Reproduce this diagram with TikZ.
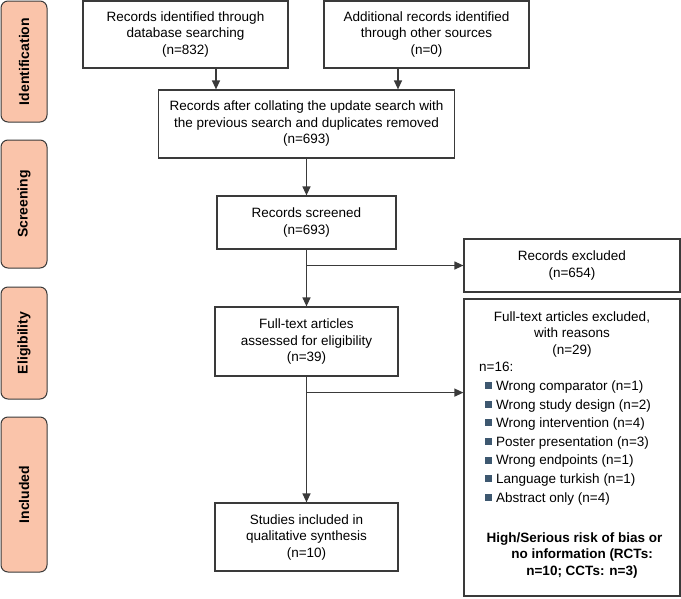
\documentclass[tikz,border=0pt]{standalone}
\usepackage{fontspec}
\setmainfont{Liberation Sans}
\usetikzlibrary{arrows.meta}
\definecolor{salmon}{RGB}{250,196,170}
\definecolor{edge}{RGB}{58,58,58}
\definecolor{bul}{RGB}{62,88,112}
\begin{document}
\begin{tikzpicture}[x=1pt,y=-1pt,
  box/.style={draw=edge, line width=1.2pt, fill=white, align=center, inner sep=0pt,
    font=\fontsize{13.5}{16.5}\selectfont},
  side/.style={draw=edge, line width=1pt, fill=salmon, rounded corners=7pt, inner sep=0pt,
    rotate=90, font=\fontsize{14}{16}\selectfont\bfseries},
  arr/.style={draw=edge, line width=1.2pt, -{Triangle[length=9pt,width=8pt]}},
  ln/.style={draw=edge, line width=1.2pt},
  txt/.style={inner sep=0pt, font=\fontsize{13.5}{16.5}\selectfont},
  btxt/.style={inner sep=0pt, font=\fontsize{13.5}{16.5}\selectfont\bfseries},
]
\useasboundingbox (0,0) rectangle (681,598);

% side labels
\node[side, minimum width=121pt, minimum height=46pt] (sid) at (24,61.5) {Identification};
\node[side, minimum width=128pt, minimum height=46pt] (ssc) at (24,204) {Screening};
\node[side, minimum width=112pt, minimum height=46pt] (sel) at (24,343) {Eligibility};
\node[side, minimum width=155pt, minimum height=46pt] (sin) at (24,494.5) {Included};

% main boxes
\node[box, minimum width=205pt, minimum height=67pt] (B1) at (185.5,34.5)
  {Records identified through\\database searching\\(n=832)};
\node[box, minimum width=205pt, minimum height=67pt] (B2) at (426.5,34.5)
  {Additional records identified\\through other sources\\(n=0)};
\node[box, minimum width=296pt, minimum height=68pt] (B3) at (306.5,124)
  {Records after collating the update search with\\the previous search and duplicates removed\\(n=693)};
\node[box, minimum width=179pt, minimum height=53pt] (B4) at (306.5,222.5)
  {Records screened\\(n=693)};
\node[box, minimum width=183pt, minimum height=69pt] (B5) at (306.5,341.5)
  {Full-text articles\\assessed for eligibility\\(n=39)};
\node[box, minimum width=183pt, minimum height=68pt] (B6) at (306.5,537)
  {Studies included in\\qualitative synthesis\\(n=10)};
\node[box, minimum width=216pt, minimum height=53pt] (E1) at (572,265.5)
  {Records excluded\\(n=654)};
\node[box, minimum width=216pt, minimum height=297pt] (E2) at (572,447.5) {};

% connectors
\draw[arr] ([xshift=30.5pt]B1.south) -- ([xshift=30.5pt]B1.south |- B3.north);
\draw[arr] ([xshift=-28.5pt]B2.south) -- ([xshift=-28.5pt]B2.south |- B3.north);
\draw[arr] (B3.south) -- (B3.south |- B4.north);
\draw[arr] (B4.south) -- (B5.north);
\draw[arr] (B4.south |- E1.west) -- (E1.west);
\draw[arr] (B5.south) -- (B6.north);
\path (B5.south) ++(0,16) coordinate (j2);
\draw[arr] (j2) -- (j2 -| E2.west);

% text of the exclusion box
\node[txt, align=center] (eh) at (572,334) {Full-text articles excluded,\\with reasons\\(n=29)};
\node[txt, anchor=base west] (en) at (479,371) {n=16:};
\foreach \t [count=\i from 0] in {Wrong comparator (n=1),Wrong study design (n=2),Wrong intervention (n=4),Poster presentation (n=3),Wrong endpoints (n=1),Language turkish (n=1),Abstract only (n=4)}{
  \pgfmathsetmacro{\yc}{385.7+18.6*\i}
  \fill[bul] (485,\yc-3.5) rectangle (492,\yc+3.5);
  \node[txt, anchor=base west] (r\i) at (496,\yc+4.8) {\t};
}
\node[btxt, anchor=base] (b1) at (574.5,542.5) {High/Serious risk of bias or};
\node[btxt, anchor=base] (b2) at (582,558.5) {no information (RCTs:};
\node[btxt, anchor=base] (b3) at (582,575) {n=10; CCTs: n=3)};
\end{tikzpicture}
\end{document}
